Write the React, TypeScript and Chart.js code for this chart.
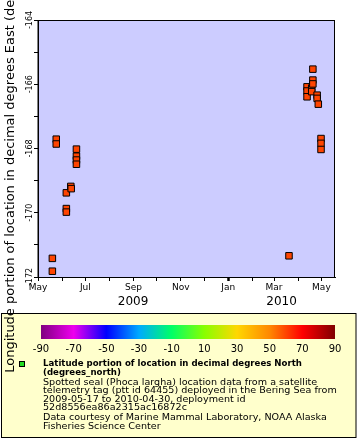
import React, { useEffect, useRef } from "react";
import { Chart, registerables } from "chart.js";

Chart.register(...registerables);

// ---- data ----
const sampleTimes = [
  "2009-05-19T12:00:00Z", "2009-05-19T12:00:00Z",
  "2009-05-24T12:00:00Z", "2009-05-24T12:00:00Z",
  "2009-06-06T12:00:00Z", "2009-06-06T12:00:00Z", "2009-06-06T12:00:00Z",
  "2009-06-12T06:00:00Z", "2009-06-12T18:00:00Z",
  "2009-06-19T12:00:00Z", "2009-06-19T12:00:00Z", "2009-06-19T12:00:00Z", "2009-06-19T12:00:00Z",
  "2010-03-20T06:00:00Z",
  "2010-04-12T12:00:00Z", "2010-04-12T12:00:00Z", "2010-04-12T12:00:00Z",
  "2010-04-18T12:00:00Z", "2010-04-18T12:00:00Z",
  "2010-04-20T00:00:00Z", "2010-04-20T00:00:00Z", "2010-04-20T00:00:00Z",
  "2010-04-25T12:00:00Z", "2010-04-25T12:00:00Z",
  "2010-04-27T00:00:00Z",
  "2010-04-30T12:00:00Z", "2010-04-30T12:00:00Z", "2010-04-30T12:00:00Z",
];
const longitudes = [
  -171.42, -171.82,
  -167.71, -167.86,
  -169.38, -169.87, -169.98,
  -169.18, -169.25,
  -168.02, -168.24, -168.36, -168.49,
  -171.34,
  -166.08, -166.21, -166.39,
  -166.12, -166.23,
  -165.53, -165.87, -165.99,
  -166.34, -166.44,
  -166.62,
  -167.69, -167.84, -168.03,
];

const axisStartDate = "2009-05-01T00:00:00Z";
const axisEndDate = "2010-05-18T12:00:00Z";
const monthTickDates = [
  "2009-05-01", "2009-06-01", "2009-07-01", "2009-08-01", "2009-09-01", "2009-10-01",
  "2009-11-01", "2009-12-01", "2010-01-01", "2010-02-01", "2010-03-01", "2010-04-01", "2010-05-01",
];
const monthTickLabels = ["May", "", "Jul", "", "Sep", "", "Nov", "", "Jan", "", "Mar", "", "May"];
const yearLabels = ["2009", "2010"];
const yearBoundaries = ["2009-05-01T00:00:00Z", "2010-01-01T00:00:00Z", "2010-05-18T12:00:00Z"];

const yMin = -172;
const yMax = -164;
const yLabelValues = [-172, -170, -168, -166, -164];

const colorbarTicks = [-90, -70, -50, -30, -10, 10, 30, 50, 70, 90];
const colorbarColors = [
  "#800080", "#ee00ee", "#0000ff", "#00aaff", "#00ff66",
  "#88ff00", "#ffd700", "#ff8800", "#ff0000", "#800000",
];

const yTitle = "Longitude portion of location in decimal degrees East (degrees_east)";
const legendTitle = ["Latitude portion of location in decimal degrees North", "(degrees_north)"];
const legendBody = [
  "Spotted seal (Phoca largha) location data from a satellite",
  "telemetry tag (ptt id 64455) deployed in the Bering Sea from",
  "2009-05-17 to 2010-04-30, deployment id",
  "52d8556ea86a2315ac16872c",
  "Data courtesy of Marine Mammal Laboratory, NOAA Alaska",
  "Fisheries Science Center",
];

const ORIGIN = Date.parse(axisStartDate);
const toDay = (s: string) => (Date.parse(s.length <= 10 ? s + "T00:00:00Z" : s) - ORIGIN) / 86400000;

const FONT = "'DejaVu Sans', sans-serif";

const decorPlugin = {
  id: "decor",
  beforeDraw(chart: any) {
    const { ctx, chartArea: a } = chart;
    ctx.save();
    ctx.fillStyle = "#ffffff";
    ctx.fillRect(0, 0, chart.width, chart.height);
    ctx.fillStyle = "#ccccff";
    ctx.fillRect(a.left, a.top, a.right - a.left, a.bottom - a.top);
    ctx.restore();
  },
  afterDraw(chart: any) {
    const { ctx, chartArea: a } = chart;
    const xs = chart.scales.x;
    const ys = chart.scales.y;
    ctx.save();
    // frame
    ctx.strokeStyle = "#000";
    ctx.lineWidth = 1;
    ctx.strokeRect(a.left, a.top + 0.5, a.right - a.left - 0.5, a.bottom - a.top);

    // y tick labels (rotated)
    ctx.fillStyle = "#000";
    ctx.font = `8px ${FONT}`;
    ctx.textAlign = "center";
    ctx.textBaseline = "alphabetic";
    yLabelValues.forEach((v) => {
      const py = ys.getPixelForValue(v);
      ctx.save();
      ctx.translate(a.left - 6, py);
      ctx.rotate(-Math.PI / 2);
      ctx.fillText(String(v), 0, 0);
      ctx.restore();
    });

    // year labels
    ctx.font = `12px ${FONT}`;
    ctx.textBaseline = "middle";
    yearLabels.forEach((lab, i) => {
      const x0 = xs.getPixelForValue(toDay(yearBoundaries[i]));
      const x1 = xs.getPixelForValue(toDay(yearBoundaries[i + 1]));
      ctx.fillText(lab, (x0 + x1) / 2, 302);
    });

    // legend box
    ctx.fillStyle = "#ffffcc";
    ctx.fillRect(1, 313, 355, 124);
    ctx.strokeStyle = "#000";
    ctx.strokeRect(1.5, 313.5, 354.5, 124);

    // colorbar
    const cbL = 41, cbR = 335, cbT = 325, cbB = 339;
    const grad = ctx.createLinearGradient(cbL, 0, cbR, 0);
    colorbarColors.forEach((c, i) => grad.addColorStop(i / (colorbarColors.length - 1), c));
    ctx.fillStyle = grad;
    ctx.fillRect(cbL, cbT, cbR - cbL, cbB - cbT);
    ctx.fillStyle = "#000";
    ctx.font = `10px ${FONT}`;
    ctx.textAlign = "center";
    ctx.textBaseline = "middle";
    colorbarTicks.forEach((t) => {
      const px = cbL + ((t - colorbarTicks[0]) / (colorbarTicks[colorbarTicks.length - 1] - colorbarTicks[0])) * (cbR - cbL);
      ctx.fillText(String(t), px, 349.5);
    });

    // legend marker
    ctx.fillStyle = "#22dd22";
    ctx.fillRect(19.5, 361.5, 5, 5);
    ctx.strokeStyle = "#000";
    ctx.strokeRect(19.5, 361.5, 5, 5);

    // legend text
    const drawLine = (txt: string, y: number, bold: boolean) => {
      ctx.save();
      ctx.font = `${bold ? "bold " : ""}9.5px ${FONT}`;
      ctx.textAlign = "left";
      ctx.textBaseline = "middle";
      ctx.translate(43, y);
      ctx.scale(bold ? 0.905 : 1.01, 1);
      ctx.fillStyle = "#000";
      ctx.fillText(txt, 0, 0);
      ctx.restore();
    };
    drawLine(legendTitle[0], 364, true);
    drawLine(legendTitle[1], 373, true);
    const bodyY = [382.5, 391, 399.5, 408, 418, 426.5];
    legendBody.forEach((t, i) => drawLine(t, bodyY[i], false));

    // y axis title (overflows, drawn last)
    ctx.save();
    ctx.font = `13px ${FONT}`;
    ctx.fillStyle = "#000";
    ctx.textAlign = "center";
    ctx.textBaseline = "alphabetic";
    ctx.translate(14, (a.top + a.bottom) / 2);
    ctx.rotate(-Math.PI / 2);
    ctx.fillText(yTitle, 0, 0);
    ctx.restore();

    ctx.restore();
  },
};

export default function App() {
  const ref = useRef<HTMLCanvasElement>(null);
  useEffect(() => {
    document.body.style.margin = "0";
    const canvas = ref.current!;
    const points = sampleTimes.map((t, i) => ({ x: toDay(t), y: longitudes[i] }));
    const tickDays = monthTickDates.map(toDay);
    const chart = new Chart(canvas, {
      type: "scatter",
      data: {
        datasets: [
          {
            data: points,
            pointStyle: "rect",
            pointRadius: 4.6,
            pointBackgroundColor: "#ff4400",
            pointBorderColor: "#000000",
            pointBorderWidth: 1,
          },
        ],
      },
      options: {
        animation: false,
        responsive: false,
        events: [],
        layout: { padding: { top: 20, right: 25, left: 0, bottom: 0 } },
        plugins: { legend: { display: false }, tooltip: { enabled: false } },
        scales: {
          x: {
            type: "linear",
            min: 0,
            max: toDay(axisEndDate),
            afterFit: (s: any) => { s.height = 163; },
            afterBuildTicks: (s: any) => { s.ticks = tickDays.map((v) => ({ value: v })); },
            ticks: {
              autoSkip: false,
              maxRotation: 0,
              minRotation: 0,
              padding: 1,
              color: "#000",
              font: { family: FONT, size: 9 },
              callback: (_v: any, i: number) => monthTickLabels[i],
            },
            grid: {
              drawOnChartArea: false,
              drawTicks: true,
              tickLength: 4,
              tickColor: "#000",
              tickWidth: (c: any) => (c.index === 8 ? 2.5 : 1),
            },
            border: { display: true, color: "#000", width: 1 },
          },
          y: {
            type: "linear",
            min: yMin,
            max: yMax,
            afterFit: (s: any) => { s.width = 38; },
            ticks: { stepSize: 1, display: false },
            grid: {
              drawOnChartArea: false,
              drawTicks: true,
              tickLength: 4,
              tickColor: "#000",
            },
            border: { display: true, color: "#000", width: 1 },
          },
        },
      },
      plugins: [decorPlugin],
    } as any);
    return () => chart.destroy();
  }, []);
  return (
    <div style={{ width: 360, height: 440 }}>
      <canvas ref={ref} width={360} height={440} />
    </div>
  );
}
